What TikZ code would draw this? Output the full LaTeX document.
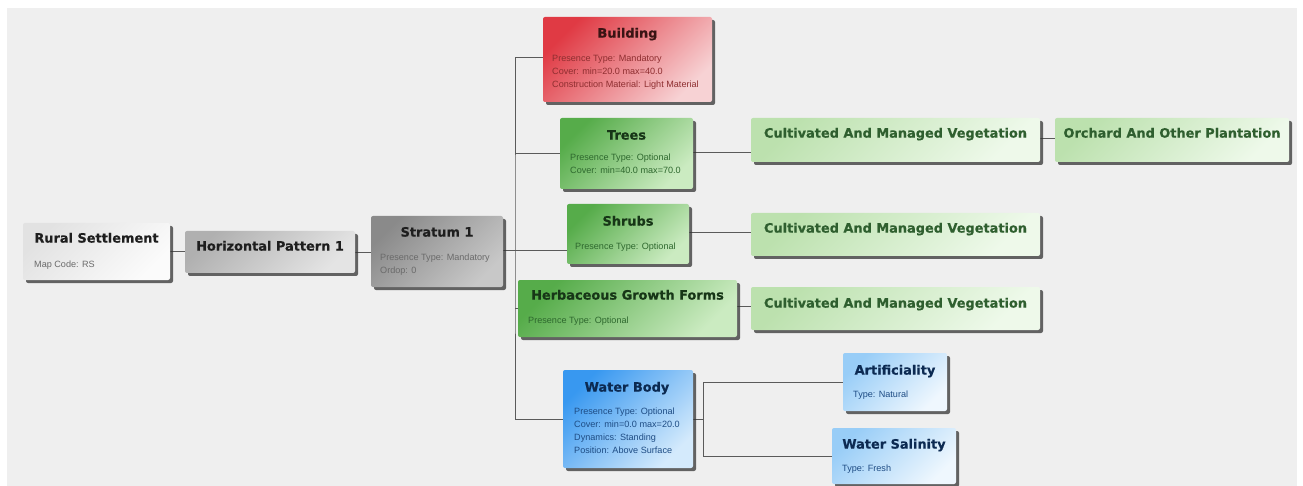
\documentclass[tikz,border=0pt]{standalone}
\usepackage{fontspec}
\setmainfont{Liberation Sans}
\newfontfamily\dvs{DejaVu Sans}[BoldFeatures={FakeBold=0.6}]
\usetikzlibrary{shadows}
\pgfdeclarelayer{back}
\pgfsetlayers{back,main}
\definecolor{bgc}{HTML}{EFEFEF}
\definecolor{lnc}{HTML}{5A5A5A}
\definecolor{graya}{HTML}{E2E2E2}\definecolor{grayb}{HTML}{FBFBFB}
\definecolor{grayc}{HTML}{B0B0B0}\definecolor{grayd}{HTML}{E4E4E4}
\definecolor{graye}{HTML}{8A8A8A}\definecolor{grayf}{HTML}{C8C8C8}
\definecolor{reda}{HTML}{E03A44}\definecolor{redb}{HTML}{F7D2D4}
\definecolor{grna}{HTML}{56AC4A}\definecolor{grnb}{HTML}{CBEBC1}
\definecolor{lgra}{HTML}{BCE1AE}\definecolor{lgrb}{HTML}{EEF9EA}
\definecolor{blua}{HTML}{3898F0}\definecolor{blub}{HTML}{D4EAFC}
\definecolor{lbla}{HTML}{98CDF7}\definecolor{lblb}{HTML}{EFF7FE}
\definecolor{tgray}{HTML}{1E1E1E}\definecolor{bgray}{HTML}{6A6A6A}
\definecolor{tred}{HTML}{3A1414}\definecolor{bred}{HTML}{8E2E30}
\definecolor{tgrn}{HTML}{173617}\definecolor{bgrn}{HTML}{2E682E}
\definecolor{tlgr}{HTML}{2F5F2F}
\definecolor{tblu}{HTML}{0C2A52}\definecolor{bblu}{HTML}{1E4C84}
\tikzset{
  box/.style 2 args={anchor=north west, inner sep=0pt, outer sep=0pt,
    rounded corners=2pt, shading=axis, top color=#1, bottom color=#2,
    shading angle=45,
    drop shadow={shadow xshift=3pt, shadow yshift=-3pt, fill=black!80, opacity=0.75}},
  ttl/.style={anchor=base, inner sep=0pt, text=#1,
    font=\dvs\bfseries\fontsize{12.9}{14}\selectfont},
  bdy/.style={anchor=north west, inner sep=0pt, align=left, text=#1,
    font=\fontsize{9.1}{13.2}\selectfont},
  conn/.style={draw=lnc, line width=0.9pt},
}
\begin{document}
\begin{tikzpicture}[x=1pt,y=-1pt]
\useasboundingbox (0,0) rectangle (1303,486);
% boxes
\node[box={graya}{grayb}, minimum width=147pt, minimum height=57pt] (rural) at (23,223) {};
\node[box={grayc}{grayd}, minimum width=170pt, minimum height=42pt] (hp) at (185,231) {};
\node[box={graye}{grayf}, minimum width=132pt, minimum height=71pt] (stratum) at (371,216) {};
\node[box={reda}{redb}, minimum width=169pt, minimum height=85pt] (building) at (543,17) {};
\node[box={grna}{grnb}, minimum width=133pt, minimum height=71pt] (trees) at (560,118) {};
\node[box={grna}{grnb}, minimum width=122pt, minimum height=60pt] (shrubs) at (567,204) {};
\node[box={grna}{grnb}, minimum width=219pt, minimum height=57pt] (herb) at (518,280) {};
\node[box={blua}{blub}, minimum width=130pt, minimum height=98pt] (wb) at (563,370) {};
\node[box={lbla}{lblb}, minimum width=104pt, minimum height=58pt] (art) at (843,353) {};
\node[box={lbla}{lblb}, minimum width=124pt, minimum height=56pt] (ws) at (832,428) {};
\node[box={lgra}{lgrb}, minimum width=289pt, minimum height=44pt] (camv1) at (751,118) {};
\node[box={lgra}{lgrb}, minimum width=234pt, minimum height=44pt] (orchard) at (1055,118) {};
\node[box={lgra}{lgrb}, minimum width=289pt, minimum height=43pt] (camv2) at (751,213) {};
\node[box={lgra}{lgrb}, minimum width=289pt, minimum height=43pt] (camv3) at (751,287) {};
% titles
\node[ttl=tgray] (rural-t) at (96.5,242.6) {Rural Settlement};
\node[ttl=tgray] (hp-t) at (270,250.6) {Horizontal Pattern 1};
\node[ttl=tgray] (stratum-t) at (437,236.6) {Stratum 1};
\node[ttl=tred] (building-t) at (627.5,37.6) {Building};
\node[ttl=tgrn] (trees-t) at (626.5,139.6) {Trees};
\node[ttl=tgrn] (shrubs-t) at (628,225.6) {Shrubs};
\node[ttl=tgrn] (herb-t) at (627.5,299.6) {Herbaceous Growth Forms};
\node[ttl=tblu] (wb-t) at (627,391.6) {Water Body};
\node[ttl=tblu] (art-t) at (895,374.6) {Artificiality};
\node[ttl=tblu] (ws-t) at (894,448.6) {Water Salinity};
\node[ttl=tlgr] (camv1-t) at (895.5,137.6) {Cultivated And Managed Vegetation};
\node[ttl=tlgr] (orchard-t) at (1172,137.6) {Orchard And Other Plantation};
\node[ttl=tlgr] (camv2-t) at (895.5,232.6) {Cultivated And Managed Vegetation};
\node[ttl=tlgr] (camv3-t) at (895.5,307.6) {Cultivated And Managed Vegetation};
% bodies
\node[bdy=bgray] (rural-b) at (34,260.6) {Map Code: RS};
\node[bdy=bgray] (stratum-b) at (380,253.6) {Presence Type: Mandatory\\Ordop: 0};
\node[bdy=bred] (building-b) at (552,54.6) {Presence Type: Mandatory\\Cover: min=20.0 max=40.0\\Construction Material: Light Material};
\node[bdy=bgrn] (trees-b) at (570,153.6) {Presence Type: Optional\\Cover: min=40.0 max=70.0};
\node[bdy=bgrn] (shrubs-b) at (575,242.6) {Presence Type: Optional};
\node[bdy=bgrn] (herb-b) at (528,316.6) {Presence Type: Optional};
\node[bdy=bblu] (wb-b) at (574,407.6) {Presence Type: Optional\\Cover: min=0.0 max=20.0\\Dynamics: Standing\\Position: Above Surface};
\node[bdy=bblu] (art-b) at (853,390.6) {Type: Natural};
\node[bdy=bblu] (ws-b) at (842,464.6) {Type: Fresh};
% connectors and background
\begin{pgfonlayer}{back}
\fill[white] (0,0) rectangle (1303,486);
\fill[bgc] (7,8) rectangle (1297,486);
\coordinate (j) at (515,250);
\coordinate (k) at (703,419);
\draw[conn] (rural.east) -- (rural.east -| hp.west);
\draw[conn] (hp.east) -- (hp.east -| stratum.west);
\draw[conn] (stratum.east |- j) -- (j);
\draw[conn] ([yshift=2.5pt]building.west) -| (j) |- (wb.west);
\draw[conn] (trees.west) -- (trees.west -| j);
\draw[conn] (j) -- (j -| shrubs.west);
\draw[conn] (herb.west) -- (herb.west -| j);
\draw[conn] ([yshift=1pt]trees.east) -- ([yshift=1pt]trees.east -| camv1.west);
\draw[conn] ([yshift=2pt]camv1.east) -- ([yshift=2pt]orchard.west);
\draw[conn] ([yshift=2pt]shrubs.east) -- ([yshift=2pt]shrubs.east -| camv2.west);
\draw[conn] ([yshift=2pt]herb.east) -- ([yshift=2pt]herb.east -| camv3.west);
\draw[conn] (wb.east) -- (k);
\draw[conn] (k) |- (art.west);
\draw[conn] (k) |- (ws.west);
\end{pgfonlayer}
\end{tikzpicture}
\end{document}
